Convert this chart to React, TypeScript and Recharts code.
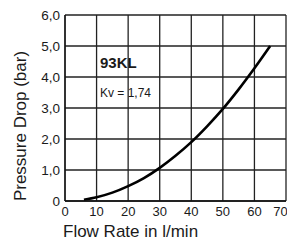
import { LineChart, Line, XAxis, YAxis, CartesianGrid } from 'recharts'

// Flow rate (l/min) vs pressure drop (bar)
const flowRate = [6, 10, 15, 20, 25, 30, 35, 40, 45, 50, 55, 60, 65]
const pressureDrop = [0.04, 0.12, 0.27, 0.48, 0.74, 1.07, 1.46, 1.9, 2.41, 2.97, 3.6, 4.28, 5.0]

const xTicks = [0, 10, 20, 30, 40, 50, 60, 70]
const yTicks = [0, 1, 2, 3, 4, 5, 6]

const data = flowRate.map((q, i) => ({ q, p: pressureDrop[i] }))

const FONT = '"Liberation Sans", Arial, Helvetica, sans-serif'
const TEXT = '#1a1a1a'

const fmtY = (v: number) => (v === 0 ? '0' : v.toFixed(1).replace('.', ','))

export default function App() {
  return (
    <div style={{ position: 'absolute', left: 0, top: 0, width: 287, height: 240, fontFamily: FONT }}>
      <LineChart width={287} height={240} data={data} margin={{ top: 15, right: 1, left: 0, bottom: 0 }}>
        <CartesianGrid stroke="#222" strokeWidth={1.3} />
        <XAxis
          dataKey="q"
          type="number"
          domain={[0, 70]}
          ticks={xTicks}
          height={39}
          tickSize={0}
          tickMargin={6}
          axisLine={{ stroke: '#111', strokeWidth: 1.3 }}
          tickLine={false}
          tick={{ fontSize: 13, fill: TEXT, fontFamily: FONT }}
          label={{
            content: ({ viewBox }: any) => (
              <text x={viewBox.x - 2} y={viewBox.y + 36} fontSize={17} fill={TEXT} fontFamily={FONT}>
                Flow Rate in l/min
              </text>
            ),
          }}
        />
        <YAxis
          type="number"
          domain={[0, 6]}
          ticks={yTicks}
          width={65}
          tickSize={0}
          tickMargin={5}
          tickFormatter={fmtY}
          axisLine={{ stroke: '#111', strokeWidth: 1.3 }}
          tickLine={false}
          tick={{ fontSize: 13.5, fill: TEXT, fontFamily: FONT }}
          label={{
            content: ({ viewBox }: any) => {
              const cx = viewBox.x + 20
              const cy = viewBox.y + viewBox.height / 2 + 18
              return (
                <text
                  x={cx}
                  y={cy}
                  transform={`rotate(-90, ${cx}, ${cy})`}
                  textAnchor="middle"
                  dominantBaseline="central"
                  fontSize={17}
                  fill={TEXT}
                  fontFamily={FONT}
                >
                  Pressure Drop (bar)
                </text>
              )
            },
          }}
        />
        <Line
          type="monotone"
          dataKey="p"
          stroke="#000"
          strokeWidth={2.6}
          dot={false}
          isAnimationActive={false}
        />
      </LineChart>
      <div style={{ position: 'absolute', left: 100, top: 54, fontSize: 15, fontWeight: 'bold', color: TEXT }}>
        93KL
      </div>
      <div style={{ position: 'absolute', left: 100, top: 86, fontSize: 12, color: TEXT }}>
        Kv = 1,74
      </div>
    </div>
  )
}
